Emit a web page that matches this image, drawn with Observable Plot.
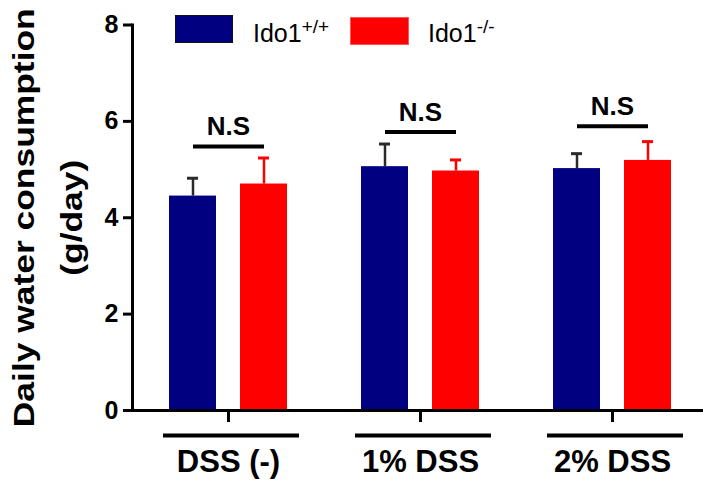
<!DOCTYPE html>
<html>
<head>
<meta charset="utf-8">
<script src="https://cdn.jsdelivr.net/npm/d3@7"></script>
<script src="https://cdn.jsdelivr.net/npm/@observablehq/plot@0.6"></script>
<style>
  body { margin: 0; background: #fff; }
  #wrap { position: relative; width: 703px; height: 480px; font-family: "Liberation Sans", Arial, sans-serif; }
  .sw { position: absolute; box-sizing: border-box; }
  .lt { position: absolute; font-size: 25px; line-height: 25px; color: #000; white-space: nowrap; }
  .lt span { font-size: 19px; position: relative; top: -9px; }
</style>
</head>
<body>
<div id="wrap">
  <div class="sw" style="left:175px;top:15px;width:58px;height:28px;background:#000080;border:1.5px solid #111;"></div>
  <div class="lt" style="left:253px;top:21px;">Ido1<span>+/+</span></div>
  <div class="sw" style="left:350px;top:17px;width:59px;height:28px;background:#ff0000;border:1px solid #f55;"></div>
  <div class="lt" style="left:428px;top:21px;">Ido1<span>-/-</span></div>
</div>
<script>
// ---- data ----
const categories = ["DSS (-)", "1% DSS", "2% DSS"];
const genotypes = ["Ido1+/+", "Ido1-/-"];
const wtMean = [4.45, 5.06, 5.02];
const wtErr  = [0.37, 0.47, 0.31];
const koMean = [4.70, 4.97, 5.19];
const koErr  = [0.54, 0.23, 0.39];
const sigLabels = ["N.S", "N.S", "N.S"];
const bracketLevel = [5.48, 5.78, 5.90];
const yTicks = [0, 2, 4, 6, 8];
const yTitle = "Daily water consumption\n(g/day)";

const rows = [];
categories.forEach((c, i) => {
  rows.push({category: c, genotype: genotypes[0], mean: wtMean[i], err: wtErr[i]});
  rows.push({category: c, genotype: genotypes[1], mean: koMean[i], err: koErr[i]});
});
const groups = categories.map((c, i) => ({category: c, label: sigLabels[i], level: bracketLevel[i]}));

const errColor = d => d.genotype === genotypes[0] ? "#2a2a2a" : "#ff0000";

const chart = Plot.plot({
  width: 703,
  height: 480,
  marginLeft: 132,
  marginRight: -5,
  marginTop: 24.5,
  marginBottom: 70,
  style: {fontFamily: "'Liberation Sans', Arial, sans-serif", color: "#000", background: "#fff"},
  fx: {domain: categories, paddingInner: 0, paddingOuter: 0},
  x: {domain: genotypes, paddingInner: 1/3, paddingOuter: 0.5, axis: null},
  y: {domain: [0, 8]},
  color: {domain: genotypes, range: ["#000080", "#ff0000"]},
  marks: [
    Plot.ruleX(rows, {fx: "category", x: "genotype", y1: "mean", y2: d => d.mean + d.err, stroke: errColor, strokeWidth: 2.5}),
    Plot.tickY(rows, {fx: "category", x: "genotype", y: d => d.mean + d.err, stroke: errColor, strokeWidth: 3, insetLeft: 18, insetRight: 18}),
    Plot.barY(rows, {fx: "category", x: "genotype", y: "mean", fill: "genotype"}),
    Plot.link(groups, {fx: "category", x1: () => genotypes[0], x2: () => genotypes[1], y1: "level", y2: "level", stroke: "#000", strokeWidth: 4}),
    Plot.text(groups, {fx: "category", y: "level", text: "label", dy: -11, lineAnchor: "bottom", fontSize: 26, fontWeight: "bold"}),
    Plot.ruleY(categories, {fx: d => d, y: () => 0, dy: 25, insetLeft: 31, insetRight: 25, stroke: "#000", strokeWidth: 4}),
    Plot.axisY(yTicks, {tickSize: 9, tickPadding: 5, fontSize: 25, fontWeight: "bold", strokeWidth: 3, label: null}),
    Plot.axisFx({anchor: "bottom", tickSize: 12, tickPadding: 27, fontSize: 31, fontWeight: "bold", strokeWidth: 3, label: null}),
    Plot.frame({anchor: "left", facet: "super", stroke: "#000", strokeWidth: 3}),
    Plot.frame({anchor: "bottom", facet: "super", stroke: "#000", strokeWidth: 3}),
    Plot.text([yTitle], {facet: "super", frameAnchor: "left", textAnchor: "middle", rotate: -90, dx: -90, lineHeight: 1.62, fontSize: 29.5, fontWeight: "bold"})
  ]
});

d3.select(chart).selectAll("text")
  .filter(function() { return this.textContent.startsWith("Daily"); })
  .attr("transform", function() { return (this.getAttribute("transform") || "") + " scale(1.2,1)"; });

document.getElementById("wrap").prepend(chart);
</script>
</body>
</html>
